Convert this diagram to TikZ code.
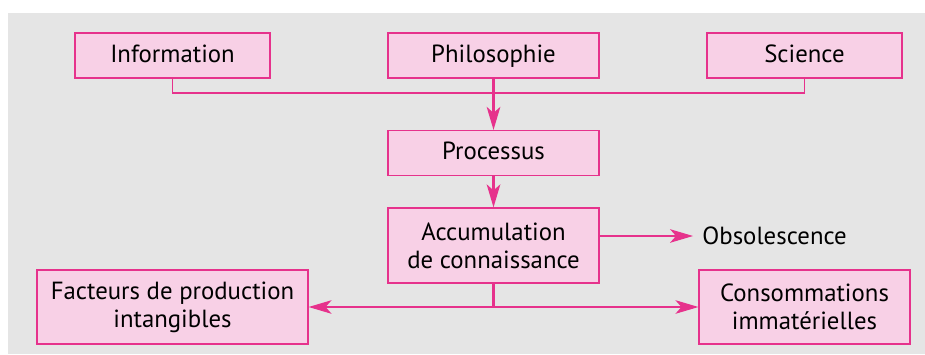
\documentclass[tikz,border=0pt]{standalone}
\usepackage{fontspec}
\setmainfont{PT Sans}
\usetikzlibrary{arrows.meta,positioning}
\definecolor{bloc-rose}{HTML}{F8D0E6}
\definecolor{trait-magenta}{HTML}{E6328C}
\definecolor{fond-gris}{HTML}{E5E5E5}
\tikzset{
  bloc/.style={draw=trait-magenta, fill=bloc-rose, line width=0.6pt, minimum height=22.5pt, align=center, inner sep=2pt, font=\fontsize{12.4}{14}\selectfont},
  ligne/.style={text height=9pt, text depth=2.5pt},
  fin/.style={draw=trait-magenta, line width=0.55pt},
  epais/.style={draw=trait-magenta, line width=1.1pt},
  fleche/.style={-{Stealth[length=11.5pt,width=6.8pt,inset=3pt]}, fill=trait-magenta},
}

\begin{document}
\begin{tikzpicture}[x=0.5pt,y=-0.5pt]
\useasboundingbox (0,0) rectangle (925,354);
\fill[fond-gris] (8,13) rectangle (925,354);
% sources
\node[bloc, ligne, minimum width=97.5pt] (info) at (172.5,55.5) {Information};
\node[bloc, ligne, minimum width=105.5pt] (philo) at (493.5,55.5) {Philosophie};
\node[bloc, ligne, minimum width=97.5pt] (sci) at (804.5,55.5) {Science};
% chaine centrale
\node[bloc, ligne, minimum width=105.5pt] (proc) at (493.5,153) {Processus};
\node[bloc, minimum width=105.5pt, minimum height=37.5pt] (accu) at (493.5,245.5) {Accumulation\\de connaissance};
\node[anchor=west, inner xsep=4.5pt, font=\fontsize{12.4}{14}\selectfont] (obso) at (693,236) {Obsolescence};
% sorties
\node[bloc, minimum width=135.5pt, minimum height=37pt] (fact) at (172.5,307) {Facteurs de production\\intangibles};
\node[bloc, minimum width=105.5pt, minimum height=37pt] (conso) at (804.5,307) {Consommations\\immatérielles};
\coordinate (jonc) at (philo.south |- 0,93);
\coordinate (partage) at (accu.south |- fact.east);
\draw[fin] (info.south) |- (jonc) -| (sci.south);
\draw[epais, fleche] (philo.south) -- (proc.north);
\draw[epais, fleche] (proc.south) -- (accu.north);
\draw[fin, fleche] (accu.east |- obso.west) -- (obso.west);
\draw[epais] (accu.south) -- (partage);
\draw[fin, fleche] (partage) -- (fact.east);
\draw[fin, fleche] (partage) -- (conso.west);
\end{tikzpicture}
\end{document}
